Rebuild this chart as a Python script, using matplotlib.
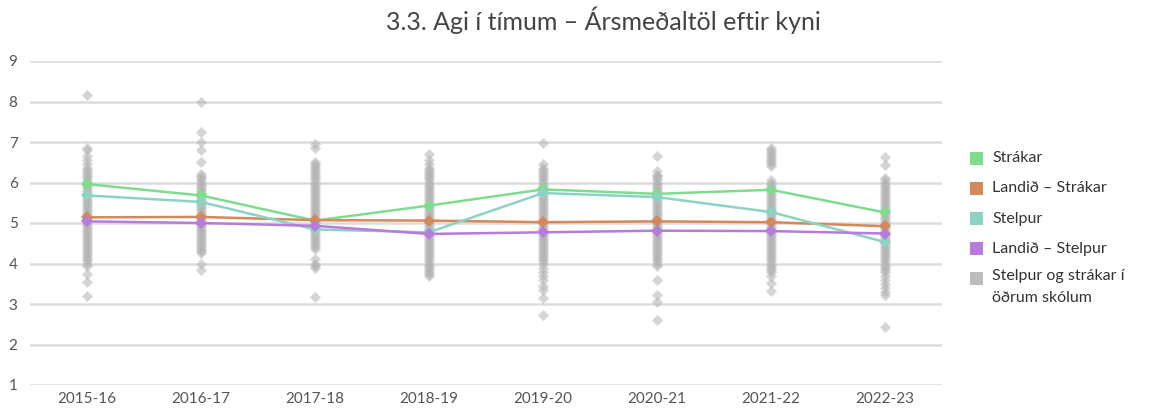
import matplotlib
matplotlib.use("Agg")
import matplotlib.pyplot as plt
from matplotlib.patches import Rectangle

years = ["2015-16", "2016-17", "2017-18", "2018-19", "2019-20", "2020-21", "2021-22", "2022-23"]

strakar = [5.96, 5.68, 5.06, 5.43, 5.83, 5.72, 5.82, 5.26]
landid_strakar = [5.14, 5.15, 5.07, 5.06, 5.02, 5.04, 5.02, 4.92]
stelpur = [5.68, 5.52, 4.84, 4.77, 5.74, 5.64, 5.27, 4.53]
landid_stelpur = [5.04, 5.00, 4.93, 4.73, 4.77, 4.81, 4.80, 4.74]

# individual schools (grey points), per year
s1516 = [8.15, 6.85, 6.8, 6.65, 6.55, 6.45, 6.35, 6.3, 6.25, 6.2, 6.15, 6.1, 6.05, 6.0, 5.95, 5.9,
         5.85, 5.8, 5.75, 5.7, 5.65, 5.6, 5.55, 5.5, 5.45, 5.4, 5.35, 5.3, 5.25, 5.2, 5.15, 5.1,
         5.05, 5.0, 4.95, 4.9, 4.85, 4.8, 4.75, 4.7, 4.65, 4.6, 4.55, 4.5, 4.45, 4.4, 4.35, 4.3,
         4.25, 4.2, 4.15, 4.1, 4.05, 4.0, 3.95, 3.75, 3.55, 3.2]
s1617 = [8.0, 7.25, 7.0, 6.8, 6.5, 6.2, 6.15, 6.1, 6.05, 6.0, 5.95, 5.9, 5.85, 5.8, 5.75, 5.7,
         5.65, 5.6, 5.55, 5.5, 5.45, 5.4, 5.35, 5.3, 5.25, 5.2, 5.15, 5.1, 5.05, 5.0, 4.95, 4.9,
         4.85, 4.8, 4.75, 4.7, 4.65, 4.6, 4.55, 4.5, 4.45, 4.4, 4.35, 4.3, 4.25, 4.0, 3.85]
s1718 = [6.95, 6.85, 6.5, 6.45, 6.4, 6.35, 6.3, 6.25, 6.2, 6.15, 6.1, 6.05, 6.0, 5.95, 5.9, 5.85,
         5.8, 5.75, 5.7, 5.65, 5.6, 5.55, 5.5, 5.45, 5.4, 5.35, 5.3, 5.25, 5.2, 5.15, 5.1, 5.05,
         5.0, 4.95, 4.9, 4.85, 4.8, 4.75, 4.7, 4.65, 4.6, 4.55, 4.5, 4.45, 4.4, 4.35, 4.1, 4.0,
         3.95, 3.88, 3.18]
s1819 = [6.7, 6.55, 6.45, 6.35, 6.3, 6.25, 6.2, 6.15, 6.1, 6.05, 6.0, 5.95, 5.9, 5.85, 5.8, 5.75,
         5.7, 5.65, 5.6, 5.55, 5.5, 5.45, 5.4, 5.35, 5.3, 5.25, 5.2, 5.15, 5.1, 5.05, 5.0, 4.95,
         4.9, 4.85, 4.8, 4.75, 4.7, 4.65, 4.6, 4.55, 4.5, 4.45, 4.4, 4.35, 4.3, 4.25, 4.2, 4.15,
         4.1, 4.05, 4.0, 3.95, 3.9, 3.85, 3.8, 3.75, 3.7]
s1920 = [6.98, 6.45, 6.35, 6.3, 6.25, 6.2, 6.15, 6.1, 6.05, 6.0, 5.95, 5.9, 5.85, 5.8, 5.75, 5.7,
         5.65, 5.6, 5.55, 5.5, 5.45, 5.4, 5.35, 5.3, 5.25, 5.2, 5.15, 5.1, 5.05, 5.0, 4.95, 4.9,
         4.85, 4.8, 4.75, 4.7, 4.65, 4.6, 4.55, 4.5, 4.45, 4.4, 4.35, 4.3, 4.25, 4.2, 4.15, 4.1,
         4.05, 4.0, 3.9, 3.8, 3.7, 3.6, 3.45, 3.35, 3.15, 2.74]
s2021 = [6.65, 6.28, 6.18, 6.15, 6.1, 6.05, 6.0, 5.95, 5.9, 5.85, 5.8, 5.75, 5.7, 5.65, 5.6, 5.55,
         5.5, 5.45, 5.4, 5.35, 5.3, 5.25, 5.2, 5.15, 5.1, 5.05, 5.0, 4.95, 4.9, 4.85, 4.8, 4.75,
         4.7, 4.65, 4.6, 4.55, 4.5, 4.45, 4.4, 4.35, 4.3, 4.25, 4.2, 4.15, 4.1, 4.05, 4.0, 3.93,
         3.6, 3.23, 3.05, 2.61]
s2122 = [6.85, 6.8, 6.75, 6.7, 6.65, 6.6, 6.55, 6.5, 6.45, 6.4, 6.05, 6.0, 5.95, 5.9, 5.85, 5.8,
         5.75, 5.7, 5.65, 5.6, 5.55, 5.5, 5.45, 5.4, 5.35, 5.3, 5.25, 5.2, 5.15, 5.1, 5.05, 5.0,
         4.95, 4.9, 4.85, 4.8, 4.75, 4.7, 4.65, 4.6, 4.55, 4.5, 4.45, 4.4, 4.35, 4.3, 4.25, 4.2,
         4.15, 4.1, 4.05, 4.0, 3.95, 3.9, 3.85, 3.8, 3.7, 3.52, 3.32]
s2223 = [6.63, 6.43, 6.1, 6.05, 6.0, 5.95, 5.9, 5.85, 5.8, 5.75, 5.7, 5.65, 5.6, 5.55, 5.5, 5.45,
         5.4, 5.35, 5.3, 5.25, 5.2, 5.15, 5.1, 5.05, 5.0, 4.95, 4.9, 4.85, 4.8, 4.75, 4.7, 4.65,
         4.6, 4.55, 4.5, 4.45, 4.4, 4.35, 4.3, 4.25, 4.2, 4.15, 4.1, 4.05, 4.0, 3.95, 3.9, 3.85,
         3.8, 3.7, 3.6, 3.5, 3.4, 3.3, 3.22, 2.43]
schools = [s1516, s1617, s1718, s1819, s1920, s2021, s2122, s2223]

series_names = ["Strákar", "Landið – Strákar", "Stelpur", "Landið – Stelpur"]
series_values = [strakar, landid_strakar, stelpur, landid_stelpur]
series_colors = ["#7edc8e", "#d3895c", "#8dd3c5", "#b67bdb"]
grey_color = "#b4b4b4"
legend_labels = series_names + ["Stelpur og strákar í\nöðrum skólum"]
legend_colors = series_colors + ["#bdbdbd"]

FONT = "Lato"
W, H = 1157, 409
fig = plt.figure(figsize=(W / 100, H / 100), dpi=100)
ax = fig.add_axes([30 / W, 24 / H, (942 - 30) / W, (385 - 61) / H])

x = list(range(len(years)))
for i, vals in enumerate(schools):
    ax.scatter([i] * len(vals), vals, marker="D", s=32, color=grey_color, alpha=0.55,
               linewidths=0, zorder=2)

order = [1, 3, 2, 0]
for k in order:
    ax.plot(x, series_values[k], color=series_colors[k], lw=1.8, marker="D", ms=6.5,
            markeredgewidth=0, zorder=3 + k * 0.1)

ax.set_xlim(-0.5, len(years) - 0.5)
ax.set_ylim(1, 9)
ax.set_yticks(range(1, 10))
ax.set_xticks(x)
ax.set_xticklabels(years)
ax.grid(axis="y", color="#dcdcdc", lw=1.8, zorder=0)
ax.set_axisbelow(True)
for s in ax.spines.values():
    s.set_visible(False)
ax.tick_params(length=0, labelsize=11, labelcolor="#555555")
ax.tick_params(axis="y", pad=9)
ax.tick_params(axis="x", pad=5)
for lab in ax.get_xticklabels() + ax.get_yticklabels():
    lab.set_fontfamily(FONT)

fig.text(603 / W, 1 - 20 / H, "3.3. Agi í tímum – Ársmeðaltöl eftir kyni", ha="center",
         va="center", fontsize=18, color="#444444", family=FONT)

ys = [158, 188, 219, 249, 278]
for lab, col, yy in zip(legend_labels, legend_colors, ys):
    fig.add_artist(Rectangle((970 / W, 1 - (yy + 6.5) / H), 13 / W, 13 / H,
                             transform=fig.transFigure, color=col, lw=0))
    if "\n" in lab:
        fig.text(992 / W, 1 - (yy - 9) / H, lab, ha="left", va="top",
                 fontsize=11.5, color="#333333", family=FONT, linespacing=1.75)
    else:
        fig.text(992 / W, 1 - yy / H, lab, ha="left", va="center",
                 fontsize=11.5, color="#333333", family=FONT)

fig.savefig("out.png", dpi=100)
